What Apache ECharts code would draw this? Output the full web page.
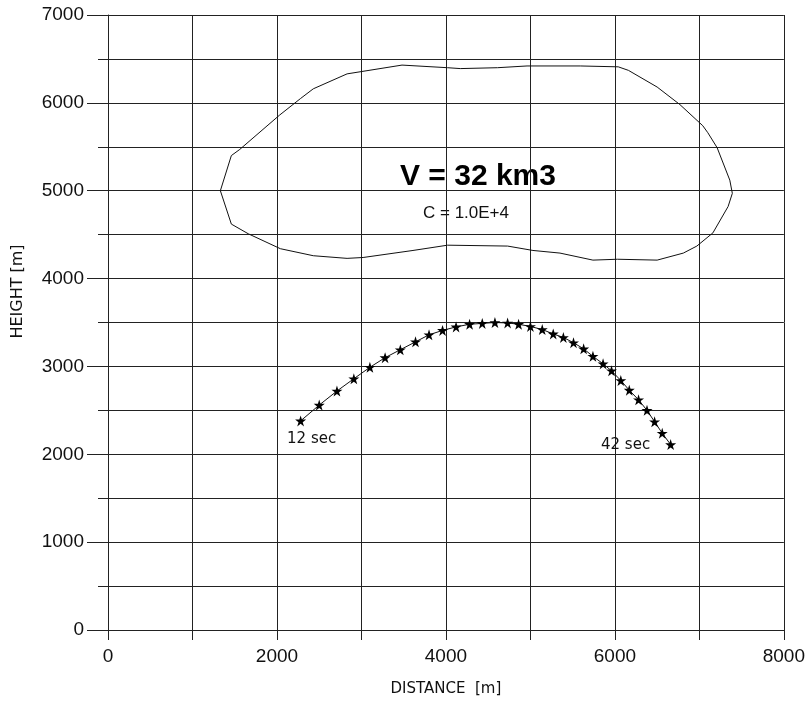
<!DOCTYPE html>
<html>
<head>
<meta charset="utf-8">
<script src="https://cdn.jsdelivr.net/npm/echarts@6/dist/echarts.min.js"></script>
<style>
html, body { margin: 0; padding: 0; background: #fff; }
#chart { width: 808px; height: 702px; }
</style>
</head>
<body>
<div id="chart"></div>
<script>
// cloud outline (closed curve), metres
const outlineX = [1330, 1460, 1560, 2030, 2280, 2430, 2830, 3480, 4020, 4170, 4610, 4960, 5590, 6040, 6160, 6500, 6770, 7040, 7100, 7210, 7360, 7390, 7340, 7160, 6970, 6810, 6500, 6030, 5740, 5350, 5030, 4730, 4020, 3610, 3020, 2830, 2430, 2040, 1660, 1460, 1330];
const outlineY = [5000, 5400, 5470, 5860, 6050, 6160, 6330, 6430, 6400, 6390, 6400, 6420, 6420, 6410, 6370, 6180, 5980, 5740, 5660, 5490, 5120, 4970, 4820, 4520, 4370, 4290, 4210, 4220, 4210, 4290, 4320, 4370, 4380, 4320, 4240, 4230, 4260, 4340, 4510, 4620, 5000];

// trajectory, one star per step
const trajX = [2280, 2500, 2710, 2910, 3100, 3280, 3460, 3640, 3800, 3960, 4120, 4280, 4430, 4580, 4730, 4860, 5000, 5140, 5270, 5390, 5510, 5630, 5740, 5860, 5960, 6070, 6170, 6280, 6380, 6470, 6560, 6660];
const trajY = [2380, 2560, 2720, 2860, 2990, 3100, 3190, 3280, 3360, 3410, 3450, 3480, 3490, 3500, 3495, 3480, 3455, 3420, 3370, 3330, 3270, 3200, 3115, 3030, 2950, 2840, 2730, 2620, 2500, 2370, 2240, 2110];
const trajLabels = ['12 sec', '42 sec'];

const volumeText = 'V = 32 km3';
const coefText = 'C = 1.0E+4';

const starPath = 'path://M50,0 L61.2,34.5 L97.6,34.5 L68.2,55.9 L79.4,90.5 L50,69.1 L20.6,90.5 L31.8,55.9 L2.4,34.5 L38.8,34.5 Z';
const lineColor = '#222';

const outlineData = outlineX.map((x, i) => [x, outlineY[i]]);
const trajData = trajX.map((x, i) => {
  const item = { value: [x, trajY[i]] };
  if (i === 0) {
    item.label = { show: true, formatter: trajLabels[0], position: 'bottom', distance: 5, offset: [11, 0] };
  } else if (i === trajX.length - 1) {
    item.label = { show: true, formatter: trajLabels[1], position: 'left', distance: 5, offset: [-10, 0] };
  }
  return item;
});

const plain = v => String(v);

const chart = echarts.init(document.getElementById('chart'));
chart.setOption({
  backgroundColor: '#fff',
  animation: false,
  grid: { left: 108, right: 24, top: 15, bottom: 60 },
  xAxis: {
    type: 'value',
    min: 0,
    max: 8000,
    interval: 2000,
    name: 'DISTANCE  [m]',
    nameLocation: 'middle',
    nameGap: 52,
    nameTextStyle: { fontFamily: 'DejaVu Sans', fontSize: 15, color: '#111' },
    axisLine: { show: true, lineStyle: { color: lineColor, width: 1 } },
    axisTick: { show: true, length: 10, lineStyle: { color: lineColor } },
    minorTick: { show: true, splitNumber: 2, length: 10, lineStyle: { color: lineColor } },
    axisLabel: { fontFamily: 'Liberation Sans', fontSize: 19, color: '#111', margin: 17, formatter: plain },
    splitLine: { show: true, lineStyle: { color: lineColor, width: 1 } },
    minorSplitLine: { show: true, lineStyle: { color: lineColor, width: 1 } }
  },
  yAxis: {
    type: 'value',
    min: 0,
    max: 7000,
    interval: 1000,
    name: 'HEIGHT [m]',
    nameLocation: 'middle',
    nameGap: 82,
    nameRotate: 90,
    nameTextStyle: { fontFamily: 'DejaVu Sans', fontSize: 16, color: '#111', padding: [0, 0, 0, 62] },
    axisLine: { show: true, lineStyle: { color: lineColor, width: 1 } },
    axisTick: { show: true, length: 21, lineStyle: { color: lineColor } },
    minorTick: { show: true, splitNumber: 2, length: 10, lineStyle: { color: lineColor } },
    axisLabel: { fontFamily: 'Liberation Sans', fontSize: 19, color: '#111', margin: 24, formatter: plain },
    splitLine: { show: true, lineStyle: { color: lineColor, width: 1 } },
    minorSplitLine: { show: true, lineStyle: { color: lineColor, width: 1 } }
  },
  graphic: [
    {
      type: 'text',
      left: 400,
      top: 162,
      style: { text: volumeText, font: 'bold 30px "Liberation Sans"', fill: '#000' }
    },
    {
      type: 'text',
      left: 423,
      top: 205,
      style: { text: coefText, font: '17px "Liberation Sans"', fill: '#111' }
    }
  ],
  series: [
    {
      type: 'line',
      data: outlineData,
      showSymbol: false,
      symbol: 'none',
      lineStyle: { color: '#111', width: 1 },
      z: 3
    },
    {
      type: 'line',
      data: trajData,
      symbol: starPath,
      symbolSize: 11,
      itemStyle: { color: '#000' },
      lineStyle: { color: '#111', width: 1 },
      label: { fontFamily: 'DejaVu Sans', fontSize: 15, color: '#111' },
      z: 4
    }
  ]
});
</script>
</body>
</html>
